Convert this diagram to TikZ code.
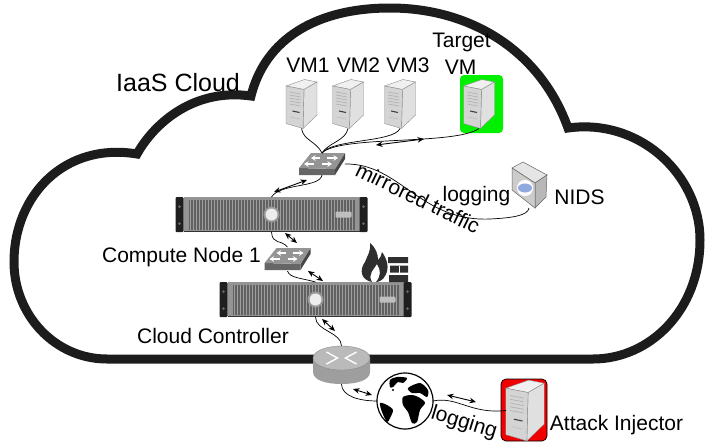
\documentclass[tikz,border=0pt]{standalone}
\usepackage{fontspec}
\setmainfont{Liberation Sans}
\usetikzlibrary{arrows.meta}
\definecolor{cloudline}{HTML}{1C1C1C}
\definecolor{vmgreen}{HTML}{00F000}
\definecolor{attackred}{HTML}{F00000}
\tikzset{
  iconbox/.style 2 args={inner sep=0,outer sep=0,minimum width=#1,minimum height=#2},
  biglabel/.style={inner sep=0,font=\fontsize{25}{25}\selectfont},
  label/.style={inner sep=0,font=\fontsize{21}{21}\selectfont},
  wire/.style={line width=.7,black},
  flow/.style={line width=.9,black,{Stealth[length=6.5,width=5.5]}-{Stealth[length=6.5,width=5.5]}},
  swarrow/.style={white,line width=1.8,-{Stealth[length=4.5,width=5.5]}},
  pics/towerpc/.style={code={
    \fill[black!6,draw=black!45,line width=.4] (-15.5,-18)--(3,-24.5)--(15.5,-22)--(2.5,-14.5)--cycle;
    \fill[black!12,draw=black!45,line width=.4] (2.5,-14.5)--(15.5,-22)--(15.5,11)--(1.5,24.5)--cycle;
    \fill[black!17,draw=black!45,line width=.4] (-15.5,-18)--(2.5,-14.5)--(1.5,24.5)--(-15.5,19.5)--cycle;
    \foreach \s in {-12,-9,-6,-3,0}
      \draw[black!30,line width=.7] (-12,\s)--(-1,\s+2);
    \draw[black!75,line width=1.1] (-9,7)--(-2,8.5);
    \draw[black!25,line width=.7] (-11,13)--(-2,15);
  }},
  pics/rackserver/.style={code={
    \fill[black!42] (-88,-17.5) rectangle (88,17.5);
    \fill[black!62] (-83,-15) rectangle (83,15);
    \draw[black!38,line width=.6,step=3] (-83,-15) grid (83,15);
    \fill[black!80] (-88,16) rectangle (88,17.5);
    \fill[black!88,rounded corners=1] (-96,-17.5) rectangle (-88,17.5);
    \fill[black!88,rounded corners=1] (88,-17.5) rectangle (96,17.5);
    \fill[black!60] (-92,-8) circle (1.5) (-92,9) circle (1.5) (92,-8) circle (1.5) (92,9) circle (1.5);
    \fill[black!40] (0,0) circle (8);
    \fill[black!7] (0,0) circle (6);
    \fill[black!25,rounded corners=1] (64,-3) rectangle (80,3);
  }},
  pics/switchbox/.style={code={
    \fill[black!60] (-23,4)--(13,5)--(13,11)--(-23,11)--cycle;
    \fill[black!72] (13,5)--(23,-11)--(23,-5)--(13,11)--cycle;
    \fill[black!42] (-11,-11)--(23,-11)--(13,5)--(-23,4)--cycle;
    \draw[swarrow] (-2,-6)--(-11,-6);
    \draw[swarrow] (5,-6)--(16,-6);
    \draw[swarrow] (-8,0)--(-18,0);
    \draw[swarrow] (0,0)--(10,0);
  }},
  pics/routerbox/.style={code={
    \fill[black!38] (-28.5,-7)--(-28.5,7) .. controls (-28.5,15) and (-16,19) .. (0,19)
      .. controls (16,19) and (28.5,15) .. (28.5,7)--(28.5,-7)--cycle;
    \fill[black!27,draw=black!45,line width=.4] (0,-7) ellipse[x radius=28.5,y radius=12];
    \draw[white,line width=1.4] (-15,-13)--(-4,-7)--(-15,-1) (15,-13)--(4,-7)--(15,-1);
  }},
  pics/globebox/.style={code={
    \fill[white] (0,0) circle (28);
    \begin{scope}
      \clip (0,0) circle (28);
      \fill[black] plot[smooth cycle] coordinates {(-2,-4)(7,-6)(15,-3)(20,2)(15,9)(12,21)(7,22)(3,11)(-2,4)};
      \fill[black] plot[smooth cycle] coordinates {(-25,2)(-18,4)(-12,9)(-15,17)(-18,21)(-23,11)};
      \fill[black] plot[smooth cycle] coordinates {(-15,-21)(-8,-24)(2,-23)(-2,-18)(-7,-19)(-12,-14)(-15,-14)};
      \fill[black] plot[smooth cycle] coordinates {(3,-13)(15,-18)(23,-11)(22,-4)(15,-8)(7,-8)};
      \fill[black] (-12,-11) circle (1.2);
    \end{scope}
    \draw[black,line width=1.2] (0,0) circle (28);
  }},
  pics/firewallicon/.style={code={
    \fill[black!82] (-3,20) .. controls (-14,18) and (-16,8) .. (-10,0) .. controls (-8,-6) and (-4,-10) .. (-5,-19)
      .. controls (1,-14) and (3,-8) .. (3,-2) .. controls (5,-4) and (7,-7) .. (7,-10)
      .. controls (12,-3) and (15,6) .. (10,14) .. controls (8,18) and (4,20) .. (1,20)
      .. controls (6,14) and (6,8) .. (2,2) .. controls (0,6) and (-8,12) .. (-3,20) -- cycle;
    \fill[black!82] (13,-5) rectangle (33,1) (15,3.5) rectangle (33,10.5) (14,13) rectangle (33,20);
    \draw[white,line width=1] (24,3.5)--(24,10.5);
  }},
  pics/nidsbox/.style={code={
    \fill[black!10,draw=black!60,line width=.5] (-17,-17)--(-6,-23)--(18,-10)--(6,-2)--cycle;
    \fill[black!28,draw=black!60,line width=.5] (6,-2)--(18,-10)--(17,12)--(6,23)--cycle;
    \fill[black!20,draw=black!60,line width=.5] (-17,-17)--(6,-2)--(6,23)--(-17,5)--cycle;
    \fill[white] (-4,3) circle (8);
    \fill[cyan!45!blue!45] (-4,3) ellipse[x radius=7,y radius=4.5];
  }},
}
\begin{document}
\begin{tikzpicture}[x=1pt,y=-1pt]
\useasboundingbox (0,0) rectangle (705,445);
% cloud outline
\draw[line width=9,cloudline,line join=miter,miter limit=3] (251,96)
  .. controls (265,40) and (315,8) .. (390,8)
  .. controls (470,8) and (540,50) .. (568,128)
  .. controls (640,118) and (700,175) .. (700,240)
  .. controls (700,310) and (650,359) .. (593,359)
  -- (107,359)
  .. controls (55,359) and (14,315) .. (14,262)
  .. controls (14,195) and (65,142) .. (137,154)
  .. controls (155,122) and (195,88) .. (251,96)
  -- cycle;
\node[biglabel] (cloudlabel) at (178,83) {IaaS Cloud};
% vms
\node[iconbox={31}{49}] (vma) at (301.5,104) {};
\node[iconbox={31}{49}] (vmb) at (348,104) {};
\node[iconbox={31}{49}] (vmc) at (400,104) {};
\node[iconbox={43}{58},fill=vmgreen,rounded corners=4] (targetglow) at (481.5,104) {};
\node[iconbox={31}{49}] (vmt) at (479,104) {};
\pic at (vma) {towerpc};
\pic at (vmb) {towerpc};
\pic at (vmc) {towerpc};
\pic at (vmt) {towerpc};
\node[label] (vmalabel) at (308,65) {VM1};
\node[label] (vmblabel) at (358.5,65) {VM2};
\node[label] (vmclabel) at (408,65) {VM3};
\node[label] (targetlabel) at (461.5,42) {Target};
\node[label] (targetvmlabel) at (460.5,67) {VM};
% switches and servers
\node[iconbox={46}{22}] (switcha) at (322,164) {};
\node[iconbox={192}{35}] (compute) at (271.5,214.5) {};
\node[iconbox={47}{24}] (switchb) at (287.5,259) {};
\node[iconbox={192}{35}] (controller) at (315.5,299.5) {};
\pic at (switcha) {switchbox};
\pic at (compute) {rackserver};
\pic at (switchb) {switchbox};
\pic at (controller) {rackserver};
\pic at (375,262) {firewallicon};
\node[label] (computelabel) at (181.5,257) {Compute Node 1};
\node[label] (controllerlabel) at (213,336) {Cloud Controller};
% nids
\node[iconbox={35}{46}] (nids) at (529,185) {};
\pic at (nids) {nidsbox};
\node[label] (nidslabel) at (579.5,197) {NIDS};
\node[label] (logginga) at (476.5,196) {logging};
\node[label,rotate=-26] (mirrored) at (418,198) {mirrored traffic};
% outside
\node[iconbox={57}{38}] (router) at (341.5,365) {};
\node[iconbox={56}{56}] (globe) at (405,401) {};
\node[iconbox={46}{62},fill=attackred,draw=black,line width=.7,rounded corners=5] (injectorbox) at (524,410) {};
\node[iconbox={38}{61}] (injector) at (525,410.5) {};
\pic at (router) {routerbox};
\pic at (globe) {globebox};
\pic[scale=1.24] at (injector) {towerpc};
\node[label] (injectorlabel) at (616.5,425) {Attack Injector};
\node[label,rotate=-17] (loggingb) at (464,423) {logging};
% wires
\draw[wire] (vma.south) .. controls +(2,12) and +(-6,-12) .. (switcha.north);
\draw[wire] (vmb.south) .. controls +(-2,12) and +(6,-10) .. (switcha.north);
\draw[wire] (vmc.south) .. controls +(-6,14) and +(10,-14) .. (switcha.north);
\draw[wire] (vmt.south) .. controls +(-24,17) and +(18,-18) .. (switcha.north);
\draw[wire] (switcha.south) .. controls +(-2,13) and +(9,-14) .. (compute.north);
\draw[wire] (switcha.east) .. controls +(55,-1) and +(-70,3) .. (490,219)
  .. controls +(20,-1) and +(-1,8) .. (nids.south);
\draw[wire] (compute.south) .. controls +(1,13) and +(-7,-8) .. (switchb.north);
\draw[wire] (switchb.south) .. controls +(2,7) and +(-14,-4) .. (controller.north);
\draw[wire] (controller.south) .. controls +(0,14) and +(0,-14) .. (router.north);
\draw[wire] (router.south) .. controls +(0,12) and +(-18,0) .. (globe.west);
\draw[wire] (globe.east) .. controls +(24,-5) and +(-35,4) .. (injector.west);
% traffic arrows
\coordinate (ta) at (376,145);
\coordinate (tb) at (424,139);
\coordinate (tc) at (274,192);
\coordinate (td) at (307,180);
\coordinate (te) at (285,233);
\coordinate (tf) at (297,243);
\coordinate (tg) at (308,271);
\coordinate (th) at (323,281);
\coordinate (ti) at (322,319);
\coordinate (tj) at (335,331);
\coordinate (tk) at (353,389);
\coordinate (tl) at (372,395);
\coordinate (tm) at (447,395);
\coordinate (tn) at (476,402);
\draw[flow] (ta) -- (tb);
\draw[flow] (tc) -- (td);
\draw[flow] (te) -- (tf);
\draw[flow] (tg) -- (th);
\draw[flow] (ti) -- (tj);
\draw[flow] (tk) -- (tl);
\draw[flow] (tm) -- (tn);
\end{tikzpicture}
\end{document}
